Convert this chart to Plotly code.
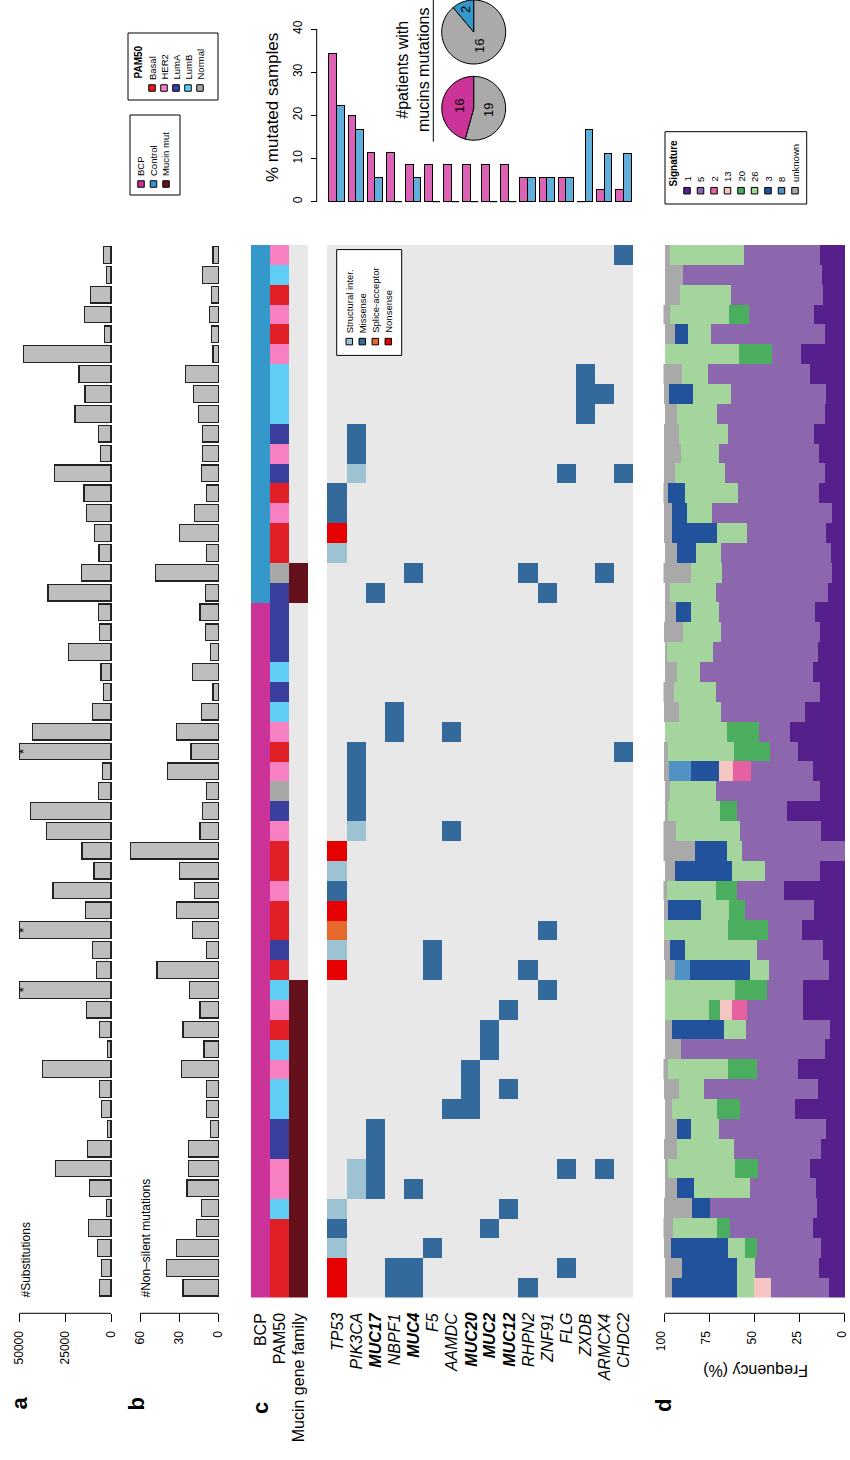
import math
import plotly.graph_objects as go

W, H = 850, 1460
FONT = "Liberation Sans, Arial, Helvetica, sans-serif"


def px(x):
    return x / W


def py(y):
    return 1 - y / H


def span(v0, p0, v1, p1, d0, d1):
    """Axis range so that value v0 sits at pixel p0 and v1 at p1 over domain d0..d1."""
    k = (v1 - v0) / (p1 - p0)
    return [v0 + (d0 - p0) * k, v0 + (d1 - p0) * k]


# ---------------------------------------------------------------- data
# Samples are listed in plotting order: first entry is the top row.
cohort = ["Control"] * 18 + ["BCP"] * 35

pam50 = ["HER2", "LumB", "Basal", "HER2", "Basal", "HER2", "LumB", "LumB", "LumB", "LumA",
         "HER2", "LumA", "Basal", "HER2", "Basal", "Basal", "Normal", "LumA", "LumA", "LumA",
         "LumA", "LumB", "LumA", "LumB", "HER2", "Basal", "HER2", "Normal", "LumA", "HER2",
         "Basal", "Basal", "HER2", "Basal", "Basal", "LumA", "Basal", "LumB", "HER2", "Basal",
         "LumB", "HER2", "LumB", "LumB", "LumA", "LumA", "HER2", "HER2", "LumB", "Basal",
         "Basal", "Basal", "Basal"]

mucin_mut = [0, 0, 0, 0, 0, 0, 0, 0, 0, 0, 0, 0, 0, 0, 0, 0, 1, 1, 0, 0,
             0, 0, 0, 0, 0, 0, 0, 0, 0, 0, 0, 0, 0, 0, 0, 0, 0, 1, 1, 1,
             1, 1, 1, 1, 1, 1, 1, 1, 1, 1, 1, 1, 1]

# number of substitutions (drawn values are capped at the axis maximum)
substitutions = [4180, 2545, 11270, 14545, 3450, 47640, 17450, 14180, 19640, 6730,
                 5640, 30910, 14730, 13450, 8900, 6545, 16000, 34360, 6730, 6360,
                 23090, 5450, 4000, 10000, 42900, 50000, 4545, 6730, 44000, 35090,
                 15820, 9270, 31640, 14000, 50000, 10180, 8000, 50000, 13450, 6360,
                 2000, 37270, 6360, 5090, 2000, 12730, 30180, 11820, 2360, 12180,
                 7270, 5270, 6360]
hypermutated = [25, 34, 37]

nonsilent = [4, 12, 5, 7, 5, 4, 25, 19, 15, 12, 12, 13, 9, 18, 30, 9, 48, 10, 14, 10,
             6, 20, 4, 13, 32, 21, 39, 9, 12, 14, 67, 30, 18, 32, 20, 9, 47, 22, 14, 27,
             11, 28, 9, 9, 6, 23, 23, 24, 13, 17, 32, 40, 27]

genes = ["TP53", "PIK3CA", "MUC17", "NBPF1", "MUC4", "F5", "AAMDC", "MUC20",
         "MUC2", "MUC12", "RHPN2", "ZNF91", "FLG", "ZXDB", "ARMCX4", "CHDC2"]
mucin_genes = ["MUC17", "MUC4", "MUC20", "MUC2", "MUC12"]

# (sample, type): S structural, M missense, A splice-acceptor, N nonsense
calls_TP53 = [(12, "M"), (13, "M"), (14, "N"), (15, "S"), (30, "N"), (31, "S"), (32, "M"),
              (33, "N"), (34, "A"), (35, "S"), (36, "N"), (48, "S"), (49, "M"), (50, "S"),
              (51, "N"), (52, "N")]
calls_PIK3CA = [(9, "M"), (10, "M"), (11, "S"), (25, "M"), (26, "M"), (27, "M"), (28, "M"),
                (29, "S"), (46, "S"), (47, "S")]
calls_MUC17 = [(17, "M"), (44, "M"), (45, "M"), (46, "M"), (47, "M")]
calls_NBPF1 = [(23, "M"), (24, "M"), (51, "M"), (52, "M")]
calls_MUC4 = [(16, "M"), (47, "M"), (51, "M"), (52, "M")]
calls_F5 = [(35, "M"), (36, "M"), (50, "M")]
calls_AAMDC = [(24, "M"), (29, "M"), (43, "M")]
calls_MUC20 = [(41, "M"), (42, "M"), (43, "M")]
calls_MUC2 = [(39, "M"), (40, "M"), (49, "M")]
calls_MUC12 = [(38, "M"), (42, "M"), (48, "M")]
calls_RHPN2 = [(16, "M"), (36, "M"), (52, "M")]
calls_ZNF91 = [(17, "M"), (34, "M"), (37, "M")]
calls_FLG = [(11, "M"), (46, "M"), (51, "M")]
calls_ZXDB = [(6, "M"), (7, "M"), (8, "M")]
calls_ARMCX4 = [(7, "M"), (16, "M"), (46, "M")]
calls_CHDC2 = [(0, "M"), (11, "M"), (25, "M")]
gene_calls = [calls_TP53, calls_PIK3CA, calls_MUC17, calls_NBPF1, calls_MUC4, calls_F5,
              calls_AAMDC, calls_MUC20, calls_MUC2, calls_MUC12, calls_RHPN2, calls_ZNF91,
              calls_FLG, calls_ZXDB, calls_ARMCX4, calls_CHDC2]

# mutational signature contributions (%)
signatures = ["1", "5", "2", "13", "20", "26", "3", "8", "unknown"]
sig_1 = [13.8, 12.7, 12.2, 17.1, 11.0, 24.3, 19.3, 10.5, 11.0, 17.1, 14.4, 11.0, 14.4, 7.2,
         10.5, 7.7, 7.2, 9.4, 16.6, 13.8, 14.9, 17.7, 13.8, 22.1, 30.4, 26.0, 17.7, 13.8,
         32.0, 13.3, 0, 13.8, 33.7, 17.1, 23.8, 12.2, 8.8, 23.2, 23.2, 8.3, 11.0, 26.0,
         14.9, 27.6, 10.5, 13.3, 19.3, 16.0, 15.5, 17.7, 13.3, 14.4, 8.8]
sig_5 = [42.0, 77.3, 50.8, 36.1, 63.0, 16.0, 56.4, 52.5, 59.7, 47.5, 55.2, 55.2, 44.8, 66.3,
         43.6, 60.8, 60.8, 61.9, 53.0, 54.7, 58.0, 62.4, 57.5, 46.4, 17.1, 15.5, 34.3, 57.5,
         27.6, 44.8, 56.9, 30.4, 26.0, 38.1, 18.8, 36.5, 33.1, 19.9, 30.9, 46.4, 79.6, 22.7,
         63.0, 30.4, 59.1, 48.1, 28.7, 36.5, 59.1, 45.9, 35.4, 35.4, 32.0]
sig_2 = [0, 0, 0, 0, 0, 0, 0, 0, 0, 0, 0, 0, 0, 0, 0, 0, 0, 0, 0, 0,
         0, 0, 0, 0, 0, 0, 9.9, 0, 0, 0, 0, 0, 0, 0, 0, 0, 0, 0, 8.3, 0,
         0, 0, 0, 0, 0, 0, 0, 0, 0, 0, 0, 0, 0]
sig_13 = [0, 0, 0, 0, 0, 0, 0, 0, 0, 0, 0, 0, 0, 0, 0, 0, 0, 0, 0, 0,
          0, 0, 0, 0, 0, 0, 7.7, 0, 0, 0, 0, 0, 0, 0, 0, 0, 0, 0, 6.6, 0,
          0, 0, 0, 0, 0, 0, 0, 0, 0, 0, 0, 0, 9.4]
sig_20 = [0, 0, 0, 10.9, 0, 18.2, 0, 0, 0, 0, 0, 0, 0, 0, 0, 0, 0, 0, 0, 0,
          0, 0, 0, 0, 17.7, 19.9, 0, 0, 9.4, 0, 0, 0, 11.6, 8.8, 22.1, 0, 0, 17.7, 6.1, 0,
          0, 16.0, 0, 12.7, 0, 0, 12.7, 0, 0, 7.2, 6.6, 0, 0]
sig_26 = [41.4, 0, 28.2, 32.6, 12.7, 41.4, 14.4, 21.0, 22.1, 27.6, 21.5, 28.2, 29.3, 13.8,
          16.6, 13.8, 17.1, 25.4, 15.5, 21.5, 26.0, 12.7, 23.2, 23.2, 34.8, 36.5, 0, 25.4,
          29.3, 35.4, 8.3, 18.2, 27.1, 16.0, 35.4, 39.8, 10.5, 39.2, 24.9, 12.2, 0, 33.1,
          13.8, 25.4, 15.5, 31.5, 38.1, 30.9, 0, 24.3, 9.4, 9.9, 9.4]
sig_3 = [0, 0, 0, 0, 7.7, 0, 0, 13.3, 0, 0, 0, 0, 9.4, 8.8, 25.4, 10.5, 0, 0, 8.3, 0,
         0, 0, 0, 0, 0, 0, 15.5, 0, 0, 0, 17.7, 32.0, 0, 18.2, 0, 8.3, 33.7, 0, 0, 28.7,
         0, 0, 0, 0, 7.7, 0, 0, 9.4, 9.9, 0, 31.5, 30.4, 36.5]
sig_8 = [0, 0, 0, 0, 0, 0, 0, 0, 0, 0, 0, 0, 0, 0, 0, 0, 0, 0, 0, 0,
         0, 0, 0, 0, 0, 0, 12.2, 0, 0, 0, 0, 0, 0, 0, 0, 0, 8.3, 0, 0, 0,
         0, 0, 0, 0, 0, 0, 0, 0, 0, 0, 0, 0, 0]
sig_unknown = [2.8, 9.9, 8.8, 3.9, 5.5, 0, 10.5, 2.8, 7.2, 8.3, 9.4, 6.1, 2.8, 4.4, 4.4,
               7.2, 15.5, 3.3, 6.6, 10.5, 1.1, 7.2, 6.1, 8.8, 0, 2.2, 2.8, 3.3, 1.7, 7.2,
               17.7, 5.5, 2.2, 2.2, 0, 3.3, 5.5, 0, 0, 4.4, 9.4, 2.8, 8.8, 3.9, 7.2, 7.2,
               1.1, 7.2, 16.0, 5.5, 3.9, 9.9, 3.9]
sig_values = [sig_1, sig_5, sig_2, sig_13, sig_20, sig_26, sig_3, sig_8, sig_unknown]

# ---------------------------------------------------------------- colours
C_BCP, C_CTRL, C_MUCIN = "#CB3398", "#3598CB", "#65111B"
C_BG = "#E8E8E8"
PAM_COLORS = {"Basal": "#E11F26", "HER2": "#F780C3", "LumA": "#3A3F9E",
              "LumB": "#60CDF4", "Normal": "#A8A8A8"}
MUT_TYPES = ["Structural inter.", "Missense", "Splice-acceptor", "Nonsense"]
MUT_COLORS = ["#9DC3D2", "#33699B", "#E4692A", "#E60000"]
SIG_COLORS = ["#55208C", "#8C67AE", "#E5619F", "#F5C5C1", "#4BAE5F",
              "#A4D59C", "#23529D", "#5091C6", "#A9A9A9"]
C_PIE_GREY = "#AAAAAA"
C_BAR_BCP, C_BAR_CTRL = "#DB62B5", "#62AEDA"

N = len(cohort)
rows = list(range(N))

# ---------------------------------------------------------------- geometry
ROW_TOP, ROW_BOT = 245.0, 1297.6
Y_DOM = [py(ROW_BOT), py(ROW_TOP)]
Y_RNG = [N - 0.5, -0.5]
AXIS_Y = 1313.3

fig = go.Figure()
shapes, annots = [], []


def vtext(x, y, text, size, xanchor="center", yanchor="bottom", angle=-90, **kw):
    annots.append(dict(x=px(x), y=py(y), xref="paper", yref="paper", text=text,
                       textangle=angle, showarrow=False, xanchor=xanchor,
                       yanchor=yanchor, font=dict(size=size, color="black", family=FONT),
                       borderpad=0, **kw))


def key(cx, cy, color, size=6.5):
    shapes.append(dict(type="rect", xref="paper", yref="paper",
                       x0=px(cx - size / 2), x1=px(cx + size / 2),
                       y0=py(cy + size / 2), y1=py(cy - size / 2),
                       fillcolor=color, line=dict(color="black", width=1), layer="above"))


def box(x0, y0, x1, y1):
    shapes.append(dict(type="rect", xref="paper", yref="paper",
                       x0=px(x0), x1=px(x1), y0=py(y1), y1=py(y0),
                       fillcolor="white", line=dict(color="black", width=1), layer="above"))


# ---------------------------------------------------------------- panel a
fig.add_trace(go.Bar(y=rows, x=substitutions, orientation="h", width=0.84,
                     marker=dict(color="#BEBEBE", line=dict(color="#222222", width=1.2)),
                     xaxis="x", yaxis="y", hoverinfo="x"))
for r in hypermutated:
    annots.append(dict(x=px(14.0), y=r, xref="paper", yref="y", text="*", textangle=-90,
                       showarrow=False, font=dict(size=13, family=FONT, color="black")))

# ---------------------------------------------------------------- panel b
fig.add_trace(go.Bar(y=rows, x=nonsilent, orientation="h", width=0.84,
                     marker=dict(color="#BEBEBE", line=dict(color="#222222", width=1.2)),
                     xaxis="x2", yaxis="y2", hoverinfo="x"))

# ---------------------------------------------------------------- panel c heatmap
colour_codes = [C_BG] + MUT_COLORS + [C_BCP, C_CTRL] + \
    [PAM_COLORS[k] for k in ["Basal", "HER2", "LumA", "LumB", "Normal"]] + [C_MUCIN, "white"]
PAM_CODE = {"Basal": 7, "HER2": 8, "LumA": 9, "LumB": 10, "Normal": 11}
MUT_CODE = {"S": 1, "M": 2, "A": 3, "N": 4}
ncodes = len(colour_codes)
cscale = []
for i, c in enumerate(colour_codes):
    cscale.append([i / ncodes, c])
    cscale.append([(i + 1) / ncodes, c])

z = []
for r in rows:
    line = [5 if cohort[r] == "BCP" else 6, PAM_CODE[pam50[r]],
            12 if mucin_mut[r] else 0, 13] + [0] * len(genes)
    z.append(line)
for j, calls in enumerate(gene_calls):
    for r, t in calls:
        z[r][4 + j] = MUT_CODE[t]

fig.add_trace(go.Heatmap(z=z, x=list(range(4 + len(genes))), y=rows, colorscale=cscale,
                         zmin=-0.5, zmax=ncodes - 0.5, showscale=False,
                         xaxis="x3", yaxis="y3", hoverinfo="skip"))

# ---------------------------------------------------------------- panel d
for name, vals, col in zip(signatures, sig_values, SIG_COLORS):
    fig.add_trace(go.Bar(y=rows, x=vals, orientation="h", width=1.0, name=name,
                         marker=dict(color=col, line=dict(width=0)),
                         xaxis="x4", yaxis="y4"))

# ---------------------------------------------------------------- mutation frequency bars
n_bcp = sum(1 for c in cohort if c == "BCP")
n_ctrl = N - n_bcp
pct_bcp, pct_ctrl = [], []
for calls in gene_calls:
    hit = set(r for r, _ in calls)
    pct_bcp.append(100 * sum(1 for r in hit if cohort[r] == "BCP") / n_bcp)
    pct_ctrl.append(100 * sum(1 for r in hit if cohort[r] == "Control") / n_ctrl)

BW = 0.41
gx = list(range(len(genes)))
x_bcp = [g - 0.215 for g in gx]
x_ctrl = [g + 0.195 for g in gx]
fig.add_trace(go.Bar(x=x_bcp, y=pct_bcp, width=BW, xaxis="x5", yaxis="y5",
                     marker=dict(color=C_BAR_BCP, line=dict(color="black", width=1))))
fig.add_trace(go.Bar(x=x_ctrl, y=pct_ctrl, width=BW, xaxis="x5", yaxis="y5",
                     marker=dict(color=C_BAR_CTRL, line=dict(color="black", width=1))))
for xs, vals in ((x_bcp, pct_bcp), (x_ctrl, pct_ctrl)):
    for xc, v in zip(xs, vals):
        if v == 0:
            shapes.append(dict(type="line", xref="x5", yref="y5", x0=xc - BW / 2,
                               x1=xc + BW / 2, y0=0, y1=0,
                               line=dict(color="black", width=1)))

# ---------------------------------------------------------------- pies
mucin_bcp = sum(1 for r in rows if cohort[r] == "BCP" and mucin_mut[r])
mucin_ctrl = sum(1 for r in rows if cohort[r] == "Control" and mucin_mut[r])
pies = [
    (mucin_bcp, n_bcp - mucin_bcp, C_BCP, 473.7, 108.3),
    (mucin_ctrl, n_ctrl - mucin_ctrl, C_CTRL, 473.7, 32.0),
]
R_PIE = 32.0
for with_mut, without, col, cx, cy in pies:
    # drawn clockwise from 12 o'clock: the mutated share ends up left of the top
    fig.add_trace(go.Pie(values=[without, with_mut], sort=False, direction="clockwise",
                         rotation=0, marker=dict(colors=[C_PIE_GREY, col],
                                                 line=dict(color="black", width=1)),
                         textinfo="none", hoverinfo="value", showlegend=False,
                         domain=dict(x=[px(cx - R_PIE), px(cx + R_PIE)],
                                     y=[max(0, py(cy + R_PIE)), min(1, py(cy - R_PIE))])))
    total = with_mut + without
    start = 0.0
    # labels: walk anticlockwise from 12 o'clock (mutated share first)
    for v in (with_mut, without):
        frac = v / total
        mid = math.radians(360 * (start + frac / 2))
        rr = R_PIE * (0.75 if frac < 0.2 else 0.47)
        lx = cx - rr * math.sin(mid)
        ly = cy - rr * math.cos(mid)
        vtext(lx, ly, str(v), 13, yanchor="middle")
        start += frac

# ---------------------------------------------------------------- axes
common = dict(showgrid=False, zeroline=False, showline=False, automargin=False)
tick_x = dict(ticks="outside", ticklen=8, tickwidth=1, tickcolor="black", tickangle=-90,
              tickfont=dict(size=12, color="black", family=FONT), ticklabelstandoff=4,
              ticklabeloverflow="allow")

fig.update_layout(
    width=W, height=H, margin=dict(l=0, r=0, t=0, b=0),
    paper_bgcolor="white", plot_bgcolor="rgba(0,0,0,0)",
    barmode="stack", showlegend=False, font=dict(family=FONT, color="black"),
    xaxis=dict(domain=[px(14), px(112)], range=span(50000, 19.3, 0, 111.0, 14, 112),
               anchor="free", position=py(AXIS_Y), side="bottom",
               tickvals=[0, 25000, 50000], ticktext=["0", "25000", "50000"], **tick_x, **common),
    yaxis=dict(domain=Y_DOM, range=Y_RNG, anchor="x", visible=False),
    xaxis2=dict(domain=[px(126), px(219.5)], range=span(60, 140.0, 0, 218.3, 126, 219.5),
                anchor="free", position=py(AXIS_Y), side="bottom",
                tickvals=[0, 30, 60], **tick_x, **common),
    yaxis2=dict(domain=Y_DOM, range=Y_RNG, anchor="x2", visible=False),
    xaxis3=dict(domain=[px(251), px(633)], range=[-0.5, 3.5 + len(genes)], anchor="y3",
                visible=False),
    yaxis3=dict(domain=Y_DOM, range=Y_RNG, anchor="x3", visible=False),
    xaxis4=dict(domain=[px(663.5), px(846)], range=span(100, 664.5, 0, 844.8, 663.5, 846),
                anchor="free", position=py(AXIS_Y), side="bottom", ticklabelshift=3,
                tickvals=[0, 25, 50, 75, 100], **tick_x, **common),
    yaxis4=dict(domain=Y_DOM, range=Y_RNG, anchor="x4", visible=False),
    xaxis5=dict(domain=[px(327.4), px(633)], range=[-0.5, len(genes) - 0.5], anchor="y5",
                visible=False),
    yaxis5=dict(domain=[py(204), py(20)], range=span(0, 201.7, 40, 29.0, 204, 20),
                anchor="free", position=px(316.7), side="left",
                tickvals=[0, 10, 20, 30, 40], ticks="outside", ticklen=6, tickwidth=1,
                tickcolor="black", tickangle=-90, ticklabelstandoff=4,
                ticklabeloverflow="allow",
                tickfont=dict(size=12, color="black", family=FONT), **common),
)

# axis lines spanning the labelled range only
for ax, hi in (("x", 50000), ("x2", 60), ("x4", 100)):
    shapes.append(dict(type="line", xref=ax, yref="paper", x0=0, x1=hi,
                       y0=py(AXIS_Y), y1=py(AXIS_Y), line=dict(color="black", width=1)))
shapes.append(dict(type="line", xref="paper", yref="y5", x0=px(316.7), x1=px(316.7),
                   y0=0, y1=40, line=dict(color="black", width=1)))
# bracket line beside the pie caption
shapes.append(dict(type="line", xref="paper", yref="paper", x0=px(433.3), x1=px(433.3),
                   y0=py(0), y1=py(141.7), line=dict(color="black", width=1)))

# ---------------------------------------------------------------- texts
vtext(18.5, 1403, "<b>a</b>", 22, yanchor="middle")
vtext(135.5, 1404, "<b>b</b>", 22, yanchor="middle")
vtext(260, 1408, "<b>c</b>", 22, yanchor="middle")
vtext(663, 1406, "<b>d</b>", 22, yanchor="middle")
vtext(25, 1299, "#Substitutions", 12)
vtext(145, 1299, "#Non–silent mutations", 12)
vtext(756, 1371, "Frequency (%)", 16, yanchor="middle", angle=180)
vtext(272, 108, "% mutated samples", 17, yanchor="middle")
vtext(413, 70, "#patients with<br>mucins mutations", 16, yanchor="middle")

col_w = (633 - 251) / (4 + len(genes))
for i, lab in enumerate(["BCP", "PAM50", "Mucin gene family"]):
    vtext(251 + col_w * (i + 0.5), 1312, lab, 16, yanchor="top")
for j, g in enumerate(genes):
    lab = f"<i><b>{g}</b></i>" if g in mucin_genes else f"<i>{g}</i>"
    vtext(251 + col_w * (4 + j + 0.5), 1312, lab, 16, yanchor="top")

# mutation-type legend
box(336.7, 249.6, 401.7, 355.4)
for i, (lab, col) in enumerate(zip(MUT_TYPES, MUT_COLORS)):
    key(349.3 + 13 * i, 341.6, col)
    vtext(349.3 + 13 * i, 334, lab, 9.5)

# signature legend
box(665, 131.7, 806.7, 204)
vtext(673, 188, "<b>Signature</b>", 10)
for i, (lab, col) in enumerate(zip(signatures, SIG_COLORS)):
    key(687 + 13.5 * i, 190.7, col)
    vtext(687 + 13.5 * i, 183, lab, 9.5)

# PAM50 legend
box(128, 33, 218, 100)
vtext(138, 80, "<b>PAM50</b>", 10)
for i, lab in enumerate(["Basal", "HER2", "LumA", "LumB", "Normal"]):
    key(152 + 12 * i, 88, PAM_COLORS[lab])
    vtext(152 + 12 * i, 81, lab, 9.5)

# cohort legend
box(130, 115, 180, 195)
for i, (lab, col) in enumerate(zip(["BCP", "Control", "Mucin mut"], [C_BCP, C_CTRL, C_MUCIN])):
    key(141 + 12.5 * i, 184, col)
    vtext(141 + 12.5 * i, 177, lab, 9.5)

fig.update_layout(shapes=shapes, annotations=annots)
fig.write_html("out.html")
